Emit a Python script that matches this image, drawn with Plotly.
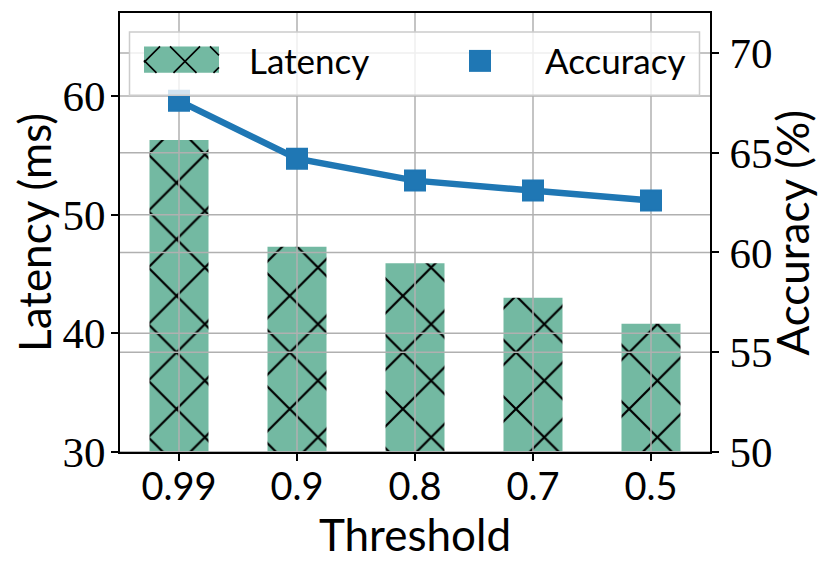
import plotly.graph_objects as go

# ---- data ----
categories = ["0.99", "0.9", "0.8", "0.7", "0.5"]
latency_ms = [56.3, 47.3, 45.9, 43.0, 40.8]
accuracy_pct = [67.6, 64.7, 63.6, 63.1, 62.6]
left_ticks = [30, 40, 50, 60]
right_ticks = [50, 55, 60, 65, 70]

# ---- styling ----
W, H = 830, 574
OFF = 8  # page body margin
PX_L, PX_R, PX_T, PX_B = 120 - OFF, 710 - OFF, 12.5 - OFF, 452.5 - OFF
YL_RANGE = [30, 67]
YR_RANGE = [50, 72]
X_RANGE = [-0.5, len(categories) - 0.5]
GREEN = "#73b9a2"
BLUE = "#1f77b4"
GRID = "#b0b0b0"
SANS = "Lato"
SERIF = "Liberation Serif"

xpos = list(range(len(categories)))


def px(x):
    # x given in screen pixels of the reference
    return (x - OFF - PX_L) / (PX_R - PX_L)


def py(y):
    return (PX_B - (y - OFF)) / (PX_B - PX_T)


fig = go.Figure()

fig.add_trace(go.Bar(
    x=xpos, y=latency_ms, width=0.5, name="Latency",
    marker=dict(color=GREEN, line=dict(width=0),
                pattern=dict(shape="x", fgcolor="black", fgopacity=1,
                             size=40, solidity=0.11)),
    yaxis="y", showlegend=False, hoverinfo="skip"))

# grid lines (drawn above the bars, below the accuracy line)
hx, hy = [], []
for t in left_ticks:
    hx += [X_RANGE[0], X_RANGE[1], None]
    hy += [t, t, None]
vx, vy = [], []
for i in xpos:
    vx += [i, i, None]
    vy += [YL_RANGE[0], YL_RANGE[1], None]
fig.add_trace(go.Scatter(x=hx + vx, y=hy + vy, mode="lines",
                         line=dict(color=GRID, width=1.5), yaxis="y",
                         showlegend=False, hoverinfo="skip"))
rx, ry = [], []
for t in right_ticks:
    rx += [X_RANGE[0], X_RANGE[1], None]
    ry += [t, t, None]
fig.add_trace(go.Scatter(x=rx, y=ry, mode="lines",
                         line=dict(color=GRID, width=1.5), yaxis="y2",
                         showlegend=False, hoverinfo="skip"))

fig.add_trace(go.Scatter(
    x=xpos, y=accuracy_pct, name="Accuracy", mode="lines+markers",
    line=dict(color=BLUE, width=6.5),
    marker=dict(symbol="square", size=20, color=BLUE, line=dict(color=BLUE, width=2)),
    yaxis="y2", showlegend=False))

# ---- legend (drawn manually to match the wide hatched patch) ----
shapes = []
shapes.append(dict(type="rect", xref="paper", yref="paper",
                   x0=px(129.5), x1=px(699.5), y0=py(95), y1=py(31.5),
                   fillcolor="rgba(255,255,255,0.8)",
                   line=dict(color="#cccccc", width=1.5), layer="above"))
p_x0, p_x1, p_y0, p_y1 = 144, 219, 46, 72.5
shapes.append(dict(type="rect", xref="paper", yref="paper",
                   x0=px(p_x0), x1=px(p_x1), y0=py(p_y1), y1=py(p_y0),
                   fillcolor=GREEN, line=dict(width=0), layer="above"))


def hatch_path(x0, x1, y0, y1, cx, cy, period):
    parts = []
    for sign in (1, -1):
        for k in range(-6, 7):
            c = cy + k * period - sign * cx
            if sign > 0:
                lo, hi = y0 - c, y1 - c
            else:
                lo, hi = c - y1, c - y0
            a, b = max(x0, lo), min(x1, hi)
            if a < b:
                parts.append("M%.5f,%.5f L%.5f,%.5f" % (
                    px(a), py(sign * a + c), px(b), py(sign * b + c)))
    return " ".join(parts)


shapes.append(dict(type="path", xref="paper", yref="paper",
                   path=hatch_path(p_x0, p_x1, p_y0, p_y1, 185, 61, 40),
                   line=dict(color="black", width=1.6), layer="above"))
shapes.append(dict(type="rect", xref="paper", yref="paper",
                   x0=px(469), x1=px(491), y0=py(71.5), y1=py(49.5),
                   fillcolor=BLUE, line=dict(width=0), layer="above"))

annotations = [
    dict(text="Latency", xref="paper", yref="paper", x=px(247), y=py(60),
         xanchor="left", yanchor="middle", showarrow=False,
         font=dict(family=SANS, size=35, color="black")),
    dict(text="Accuracy", xref="paper", yref="paper", x=px(543), y=py(60),
         xanchor="left", yanchor="middle", showarrow=False,
         font=dict(family=SANS, size=35, color="black")),
    # right axis title
    dict(text="Accuracy (%)", xref="paper", yref="paper", x=px(791), y=0.5,
         xanchor="center", yanchor="middle", textangle=-90, showarrow=False,
         font=dict(family=SANS, size=44, color="black")),
]

axis_common = dict(showline=True, linecolor="black", linewidth=2,
                   ticks="outside", ticklen=7, tickwidth=1.5, tickcolor="black",
                   showgrid=False, zeroline=False, automargin=False)

fig.update_layout(
    width=W, height=H,
    margin=dict(l=PX_L, r=W - PX_R, t=PX_T, b=H - PX_B, autoexpand=False),
    paper_bgcolor="white", plot_bgcolor="white",
    showlegend=False,
    shapes=shapes, annotations=annotations,
    xaxis=dict(range=X_RANGE, tickvals=xpos, ticktext=categories, mirror=True,
               tickfont=dict(family=SANS, size=38, color="black"),
               ticklabelstandoff=-7,
               title=dict(text="Threshold", font=dict(family=SANS, size=44, color="black"),
                          standoff=2),
               **axis_common),
    yaxis=dict(range=YL_RANGE, tickvals=left_ticks,
               tickfont=dict(family=SERIF, size=43, color="black"),
               ticklabelstandoff=-3,
               title=dict(text="Latency (ms)", font=dict(family=SANS, size=44, color="black"),
                          standoff=9),
               **axis_common),
    yaxis2=dict(range=YR_RANGE, tickvals=right_ticks, overlaying="y", side="right",
                tickfont=dict(family=SERIF, size=43, color="black"),
                ticklabelstandoff=2,
                **axis_common),
)

fig.write_html("out.html")
